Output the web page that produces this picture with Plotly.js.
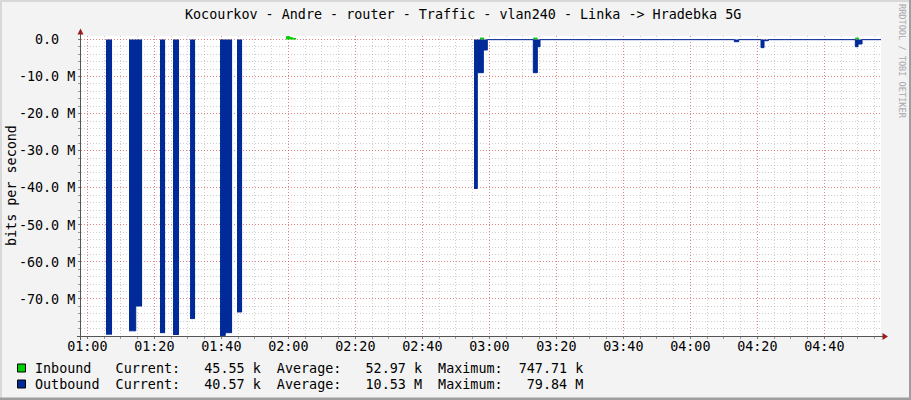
<!DOCTYPE html>
<html>
<head>
<meta charset="utf-8">
<script src="https://cdn.plot.ly/plotly-3.0.1.min.js"></script>
<style>
html,body{margin:0;padding:0;background:#f3f3f3;}
#chart{width:911px;height:400px;}
</style>
</head>
<body>
<div id="chart"></div>
<script>
// ---------- data ----------
const DAY = '2024-01-01 ';
const titleText = 'Kocourkov - Andre - router - Traffic - vlan240 - Linka -> Hradebka 5G';
const yAxisLabel = 'bits per second';
const watermark = 'RRDTOOL / TOBI OETIKER';

// Outbound (drawn negative), null = no data
const outTimes = [
  '01:05:35','01:07:22','01:07:23',
  '01:12:27','01:14:27','01:16:20','01:16:21',
  '01:21:42','01:23:12','01:23:13',
  '01:25:35','01:27:22','01:27:23',
  '01:30:40','01:32:09','01:32:10',
  '01:39:37','01:41:11','01:43:12','01:43:13',
  '01:44:41','01:46:11','01:46:12',
  '02:55:26','02:56:25','02:58:13','02:59:24',
  '03:13:08','03:14:20','03:15:08',
  '04:13:08','04:14:27',
  '04:21:06','04:22:00','04:23:17',
  '04:49:15','04:50:04','04:51:15','04:57:30'
];
const outValues = [
  -79.5e6,-79.5e6,null,
  -78.6e6,-71.9e6,-71.9e6,null,
  -79.1e6,-79.1e6,null,
  -79.6e6,-79.6e6,null,
  -75.3e6,-75.3e6,null,
  -79.84e6,-79.1e6,-79.1e6,null,
  -73.5e6,-73.5e6,null,
  -40.2e6,-8.95e6,-2.83e6,-0.04e6,
  -8.95e6,-1.94e6,-0.04e6,
  -0.59e6,-0.04e6,
  -2.2e6,-0.32e6,-0.04e6,
  -1.94e6,-1.21e6,-0.04e6,-0.04e6
];

// Inbound (positive)
const inTimes = [
  '01:59:19','02:00:31','02:01:19','02:02:18','02:02:19',
  '02:57:13','02:58:25','02:58:26',
  '03:13:08','03:14:20','03:14:21',
  '04:49:15','04:50:16','04:50:17'
];
const inValues = [
  0.75e6,0.5e6,0.25e6,0.25e6,null,
  0.4e6,0.4e6,null,
  0.4e6,0.4e6,null,
  0.4e6,0.4e6,null
];

const xTickLabels = ['01:00','01:20','01:40','02:00','02:20','02:40','03:00','03:20','03:40','04:00','04:20','04:40'];
const yTickValues = [0,-10e6,-20e6,-30e6,-40e6,-50e6,-60e6,-70e6];
const yTickLabels = ['0.0  ','-10.0 M','-20.0 M','-30.0 M','-40.0 M','-50.0 M','-60.0 M','-70.0 M'];

const seriesNames = ['Inbound','Outbound'];
const seriesColors = ['#00CF00','#002A97'];
const currentVals = ['45.55 k','40.57 k'];
const averageVals = ['52.97 k','10.53 M'];
const maximumVals = ['747.71 k','79.84 M'];

// ---------- layout helpers ----------
const L = 81, R = 30, T = 36, B = 64, W = 911, H = 400;
const PW = W - L - R, PH = H - T - B;
const PX = px => (px - L) / PW;
const PY = py => (T + PH - py) / PH;
const FONT = 'DejaVu Sans Mono, monospace';
const nb = s => s.replace(/ /g, '\u00a0');
const zeroGaps = arr => arr.map(v => v === null ? 0 : v);

function areaTraces(times, values, color) {
  const x = times.map(t => DAY + t);
  return [
    { // filled step area (gaps drawn as empty)
      x: x, y: zeroGaps(values), type: 'scatter', mode: 'lines',
      line: {shape: 'hv', width: 0, color: color},
      fill: 'tozeroy', fillcolor: color, hoverinfo: 'skip'
    },
    { // 1px outline of the data, broken at gaps
      x: x, y: values, type: 'scatter', mode: 'lines',
      line: {shape: 'hv', width: 1, color: color},
      connectgaps: false, hoverinfo: 'skip'
    }
  ];
}

const traces = [
  ...areaTraces(inTimes, inValues, seriesColors[0]),
  ...areaTraces(outTimes, outValues, seriesColors[1])
];

const majorGrid = 'rgba(255,0,0,0.36)';
const minorGrid = 'rgba(128,128,128,0.38)';
const gdash = '1px,2px';

const shapes = [];
// axis lines and arrows
shapes.push({type:'line', xref:'paper', yref:'paper', x0:PX(77), x1:PX(883), y0:PY(336.5), y1:PY(336.5), line:{color:'#555', width:1}, layer:'above'});
shapes.push({type:'line', xref:'paper', yref:'paper', x0:PX(80.5), x1:PX(80.5), y0:PY(340), y1:PY(32), line:{color:'#555', width:1}, layer:'above'});
shapes.push({type:'path', xref:'paper', yref:'paper', path:
  `M ${PX(882.5)} ${PY(333)} L ${PX(888)} ${PY(336.5)} L ${PX(882.5)} ${PY(340)} Z`,
  fillcolor:'#9a1c1c', line:{width:0}, layer:'above'});
shapes.push({type:'path', xref:'paper', yref:'paper', path:
  `M ${PX(77.5)} ${PY(34.5)} L ${PX(80.5)} ${PY(28.5)} L ${PX(83.5)} ${PY(34.5)} Z`,
  fillcolor:'#9a1c1c', line:{width:0}, layer:'above'});
// frame
shapes.push({type:'rect', xref:'paper', yref:'paper', x0:PX(0), x1:PX(2), y0:PY(0), y1:PY(400), fillcolor:'#d8d8d8', line:{width:0}});
shapes.push({type:'rect', xref:'paper', yref:'paper', x0:PX(0), x1:PX(911), y0:PY(0), y1:PY(2), fillcolor:'#d8d8d8', line:{width:0}});
shapes.push({type:'rect', xref:'paper', yref:'paper', x0:PX(909), x1:PX(911), y0:PY(0), y1:PY(400), fillcolor:'#9e9e9e', line:{width:0}});
shapes.push({type:'rect', xref:'paper', yref:'paper', x0:PX(0), x1:PX(911), y0:PY(397.5), y1:PY(400), fillcolor:'#9e9e9e', line:{width:0}});

const annotations = [];
annotations.push({text: titleText, xref:'paper', yref:'paper', x:PX(463), y:PY(14), xanchor:'center', yanchor:'middle', showarrow:false, font:{family:FONT, size:13.4, color:'#000'}});
annotations.push({text: yAxisLabel, xref:'paper', yref:'paper', x:PX(11), y:PY(186), xanchor:'center', yanchor:'middle', textangle:-90, showarrow:false, font:{family:FONT, size:13.4, color:'#000'}});
annotations.push({text: watermark, xref:'paper', yref:'paper', x:PX(902), y:PY(61), xanchor:'center', yanchor:'middle', textangle:90, showarrow:false, font:{family:FONT, size:8.6, color:'#a8a8a8'}});

const rowY = [368, 384];
seriesNames.forEach((name, i) => {
  const line = name.padEnd(10) + 'Current:' + currentVals[i].padStart(10) + '  ' +
               'Average:' + averageVals[i].padStart(10) + '  ' +
               'Maximum:' + maximumVals[i].padStart(10);
  annotations.push({text: nb(line), xref:'paper', yref:'paper', x:PX(33), y:PY(rowY[i]), xanchor:'left', yanchor:'middle', showarrow:false, font:{family:FONT, size:13.4, color:'#000'}});
  shapes.push({type:'rect', xref:'paper', yref:'paper', x0:PX(17.5), x1:PX(25.5), y0:PY(rowY[i]-4), y1:PY(rowY[i]+4), fillcolor:seriesColors[i], line:{color:'#000', width:1}});
});

const layout = {
  width: W, height: H,
  margin: {l: L, r: R, t: T, b: B, pad: 0},
  paper_bgcolor: '#f3f3f3', plot_bgcolor: '#ffffff',
  showlegend: false,
  font: {family: FONT, size: 13.4, color: '#000'},
  xaxis: {
    type: 'date',
    range: [DAY + '00:58:07', DAY + '04:56:55'],
    tickmode: 'array',
    tickvals: xTickLabels.map(t => DAY + t),
    ticktext: xTickLabels,
    showgrid: true, gridcolor: majorGrid, griddash: gdash, gridwidth: 1,
    ticks: 'outside', ticklen: 2, tickcolor: '#777',
    ticklabelstandoff: -4,
    minor: {tickmode: 'linear', tick0: DAY + '01:00', dtick: 300000, showgrid: true, gridcolor: minorGrid, griddash: gdash, ticks: 'outside', ticklen: 2, tickcolor: '#999'},
    showline: false, zeroline: false, fixedrange: true,
    tickfont: {family: FONT, size: 13.4, color: '#000'}
  },
  yaxis: {
    range: [-80e6, 0.95e6],
    tickmode: 'array',
    tickvals: yTickValues,
    ticktext: yTickLabels.map(nb),
    showgrid: true, gridcolor: majorGrid, griddash: gdash, gridwidth: 1,
    ticks: 'outside', ticklen: 2, tickcolor: '#777',
    minor: {tickmode: 'linear', tick0: 0, dtick: 2e6, showgrid: true, gridcolor: minorGrid, griddash: gdash, ticks: 'outside', ticklen: 2, tickcolor: '#999'},
    showline: false, zeroline: false, fixedrange: true,
    tickfont: {family: FONT, size: 13.4, color: '#000'}
  },
  shapes: shapes,
  annotations: annotations
};

Plotly.newPlot('chart', traces, layout, {displayModeBar: false, staticPlot: true});
</script>
</body>
</html>
